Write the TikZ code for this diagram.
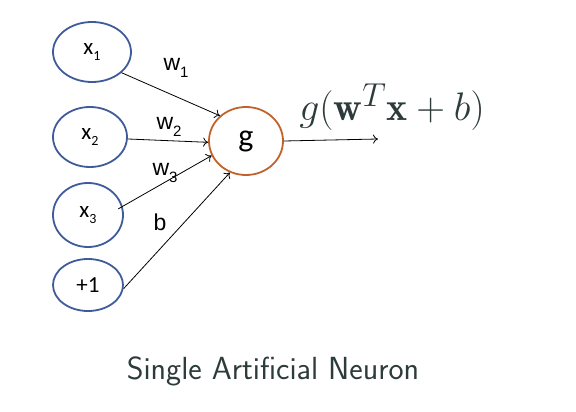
\documentclass[tikz,border=0pt]{standalone}
\usepackage{fontspec}
\usepackage{amsmath}
\usepackage{graphicx}
\setsansfont{Carlito}
\newfontfamily\lmsans{Latin Modern Sans}
\newfontfamily\arialish{Liberation Sans}
\usetikzlibrary{shapes.geometric,arrows.meta}
\definecolor{inblue}{HTML}{3F5B9A}
\definecolor{gorange}{HTML}{C0622A}
\definecolor{txtdark}{HTML}{2E3B3B}
\newcommand{\nsub}[1]{\raisebox{-0.25em}{\fontsize{14}{14}\selectfont #1}}
\newcommand{\wsub}[1]{\raisebox{-0.3em}{\fontsize{15}{15}\selectfont #1}}
\begin{document}
\begin{tikzpicture}[x=1pt,y=-1pt,
  inode/.style={ellipse,draw=inblue,line width=1.8pt,inner sep=0pt,font=\sffamily\fontsize{23}{23}\selectfont},
  gnode/.style={ellipse,draw=gorange,line width=1.8pt,inner sep=0pt,minimum width=74pt,minimum height=68pt,font=\sffamily\fontsize{32}{32}\selectfont},
  conn/.style={-{To[length=5pt,width=9pt]},line width=0.8pt},
  wlab/.style={font=\arialish\fontsize{23}{23}\selectfont}]
\useasboundingbox (0,0) rectangle (576,412);
\node[inode,minimum width=78pt,minimum height=60pt] (x1) at (92,52) {x\nsub{1}};
\node[inode,minimum width=74pt,minimum height=60pt] (x2) at (90,137) {x\nsub{2}};
\node[inode,minimum width=70pt,minimum height=64pt] (x3) at (88,215) {x\nsub{3}};
\node[inode,minimum width=70pt,minimum height=52pt] (p1) at (88,285) {+1};
\node[gnode] (g) at (246,141) {g};
\coordinate (out) at (378,139);
\draw[conn] (x1.-35) -- (g.136);
\draw[conn] (x2.-3) -- (g.182);
\draw[conn,shorten <=-5pt] (x3.14) -- (g.203);
\draw[conn] (p1.-6) -- (g.243);
\draw[conn] (g.east) -- (out);
\node[wlab] (w1) at (176,68) {w\wsub{1}};
\node[wlab] (w2) at (169,127) {w\wsub{2}};
\node[wlab] (w3) at (165,173) {w\wsub{3}};
\node[wlab] (b) at (160,222) {b};
\node[text=txtdark,font=\fontsize{24.88}{25}\selectfont] (f) at (392,107) {\scalebox{1.6}{$g(\mathbf{w}^T\mathbf{x}+b)$}};
\node[text=txtdark,font=\lmsans\fontsize{32}{32}\selectfont] (cap) at (273,371) {Single Artificial Neuron};
\end{tikzpicture}
\end{document}
